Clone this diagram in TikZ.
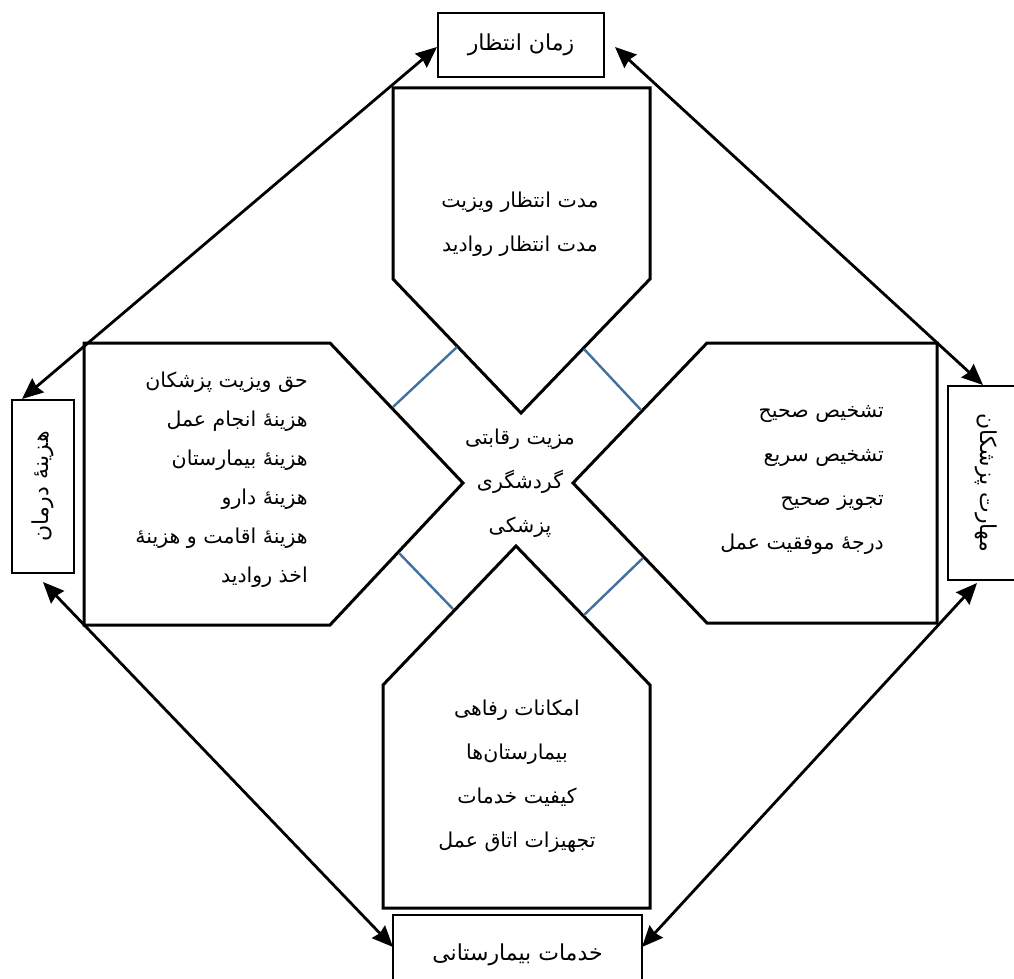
\documentclass[tikz,border=0pt]{standalone}
\usepackage{fontspec}
\newfontfamily\arabicfont[Script=Arabic]{DejaVu Sans}
\TeXXeTstate=1
\usetikzlibrary{arrows.meta}
\definecolor{linkblue}{RGB}{65,113,156}
\begin{document}
\begin{tikzpicture}[x=1pt,y=-1pt,
  outerbox/.style={draw=black,line width=2.4pt,fill=white,inner sep=0pt,font=\arabicfont\fontsize{22}{26}\selectfont},
  shapeline/.style={draw=black,line width=3pt,line join=miter},
  bluelink/.style={draw=linkblue,line width=2.4pt},
  dblarrow/.style={line width=2.8pt,{Stealth[length=21pt,width=18pt,inset=2pt]}-{Stealth[length=21pt,width=18pt,inset=2pt]}},
  txt/.style={inner sep=0pt,font=\arabicfont\fontsize{20.5}{#1}\selectfont},
  txt/.default=44
]
\useasboundingbox (0,0) rectangle (1014,979);
\fill[white] (0,0) rectangle (1014,979);

% central shapes
\draw[shapeline] (393,88) -- (650,88) -- (650,279) -- (521,413) -- (393,279) -- cycle;
\draw[shapeline] (84,343) -- (330,343) -- (463,483) -- (330,625) -- (84,625) -- cycle;
\draw[shapeline] (937,343) -- (707,343) -- (573,483) -- (707,623) -- (937,623) -- cycle;
\draw[shapeline] (383,908) -- (650,908) -- (650,685) -- (516,546) -- (383,685) -- cycle;

% blue links
\draw[bluelink] (393,407) -- (457,347);
\draw[bluelink] (584,349) -- (641,410);
\draw[bluelink] (399,553) -- (453,609);
\draw[bluelink] (584,615) -- (643,558);

% texts inside shapes
\node[txt,align=center] (ttop) at (520,224) {\beginR مدت انتظار ویزیت\endR\\\beginR مدت انتظار روادید\endR};
\node[txt=39,align=right,anchor=east] (tleft) at (308,480) {\beginR حق ویزیت پزشکان\endR\\\beginR هزینهٔ انجام عمل\endR\\\beginR هزینهٔ بیمارستان\endR\\\beginR هزینهٔ دارو\endR\\\beginR هزینهٔ اقامت و هزینهٔ\endR\\\beginR اخذ روادید\endR};
\node[txt,align=right,anchor=east] (tright) at (884,480) {\beginR تشخیص صحیح\endR\\\beginR تشخیص سریع\endR\\\beginR تجویز صحیح\endR\\\beginR درجهٔ موفقیت عمل\endR};
\node[txt,align=center] (tbottom) at (517,776) {\beginR امکانات رفاهی\endR\\\beginR بیمارستان‌ها\endR\\\beginR کیفیت خدمات\endR\\\beginR تجهیزات اتاق عمل\endR};
\node[txt,align=center] (tcenter) at (520,483) {\beginR مزیت رقابتی\endR\\\beginR گردشگری\endR\\\beginR پزشکی\endR};

% outer boxes
\node[outerbox,minimum width=166pt,minimum height=64pt] (wait) at (521,45) {\beginR زمان انتظار\endR};
\node[outerbox,minimum width=173pt,minimum height=62pt,rotate=90] (cost) at (43,486.5) {\beginR هزینهٔ درمان\endR};
\node[outerbox,minimum width=194pt,minimum height=76pt,rotate=-90] (skill) at (986,483) {\beginR مهارت پزشکان\endR};
\node[outerbox,minimum width=249pt,minimum height=80pt] (hosp) at (517.5,955) {\beginR خدمات بیمارستانی\endR};

% arrow ends
\coordinate (a1) at (22,399);
\coordinate (a2) at (437,47);
\coordinate (b1) at (615,47);
\coordinate (b2) at (983,385);
\coordinate (c1) at (43,582);
\coordinate (c2) at (393,947);
\coordinate (d1) at (977,583);
\coordinate (d2) at (642,947);
\draw[dblarrow] (a1) -- (a2);
\draw[dblarrow] (b1) -- (b2);
\draw[dblarrow] (c1) -- (c2);
\draw[dblarrow] (d1) -- (d2);
\end{tikzpicture}
\end{document}
